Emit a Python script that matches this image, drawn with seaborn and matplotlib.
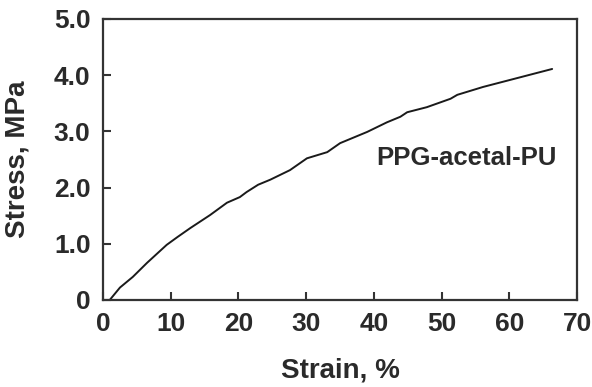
import matplotlib
matplotlib.use("Agg")
import matplotlib.pyplot as plt
import seaborn as sns
import pandas as pd

strain = [1.0, 2.5, 4.4, 6.5, 9.4, 11.0, 12.9, 15.8, 18.3, 20.2, 21.2, 22.9, 24.7,
          27.6, 30.1, 33.1, 35.0, 39.0, 41.9, 43.9, 44.9, 47.8, 51.3, 52.3, 56.1,
          61.2, 66.3]
stress = [0.0, 0.22, 0.41, 0.66, 0.98, 1.12, 1.28, 1.51, 1.73, 1.83, 1.92, 2.05, 2.14,
          2.31, 2.52, 2.63, 2.79, 2.99, 3.16, 3.26, 3.34, 3.43, 3.58, 3.65, 3.79,
          3.95, 4.11]
series_label = "PPG-acetal-PU"
x_ticks = [0, 10, 20, 30, 40, 50, 60, 70]
y_ticks = [0, 1, 2, 3, 4, 5]
y_tick_labels = ["0", "1.0", "2.0", "3.0", "4.0", "5.0"]

sns.set_theme(style="ticks")
plt.rcParams["font.family"] = ["Liberation Sans", "DejaVu Sans"]

df = pd.DataFrame({"Strain": strain, "Stress": stress})

fig = plt.figure(figsize=(5.92, 3.87), dpi=100)
ax = fig.add_axes([0.174, 0.225, 0.801, 0.726])
sns.lineplot(data=df, x="Strain", y="Stress", ax=ax, color="#1a1a1a", linewidth=1.4)

ax.set_xlim(0, 70)
ax.set_ylim(0, 5.0)
ax.set_xticks(x_ticks)
ax.set_xticklabels([str(t) for t in x_ticks])
ax.set_yticks(y_ticks)
ax.set_yticklabels(y_tick_labels)

txtc = "#2a2a2a"
for s in ax.spines.values():
    s.set_visible(True)
    s.set_linewidth(1.6)
    s.set_color("#333333")
ax.tick_params(direction="in", length=6, width=1.5, color="#333333",
               labelsize=19, labelcolor=txtc)
ax.tick_params(axis="x", pad=9)
ax.tick_params(axis="y", pad=9)
for lab in ax.get_xticklabels() + ax.get_yticklabels():
    lab.set_fontweight("bold")

ax.set_xlabel("Strain, %", fontsize=20, fontweight="bold", color=txtc, labelpad=15)
ax.set_ylabel("Stress, MPa", fontsize=20, fontweight="bold", color=txtc, labelpad=17)

ax.text(53.6, 2.53, series_label, fontsize=18.5, fontweight="bold", color=txtc,
        ha="center", va="center")

fig.savefig("out.png", dpi=100)
